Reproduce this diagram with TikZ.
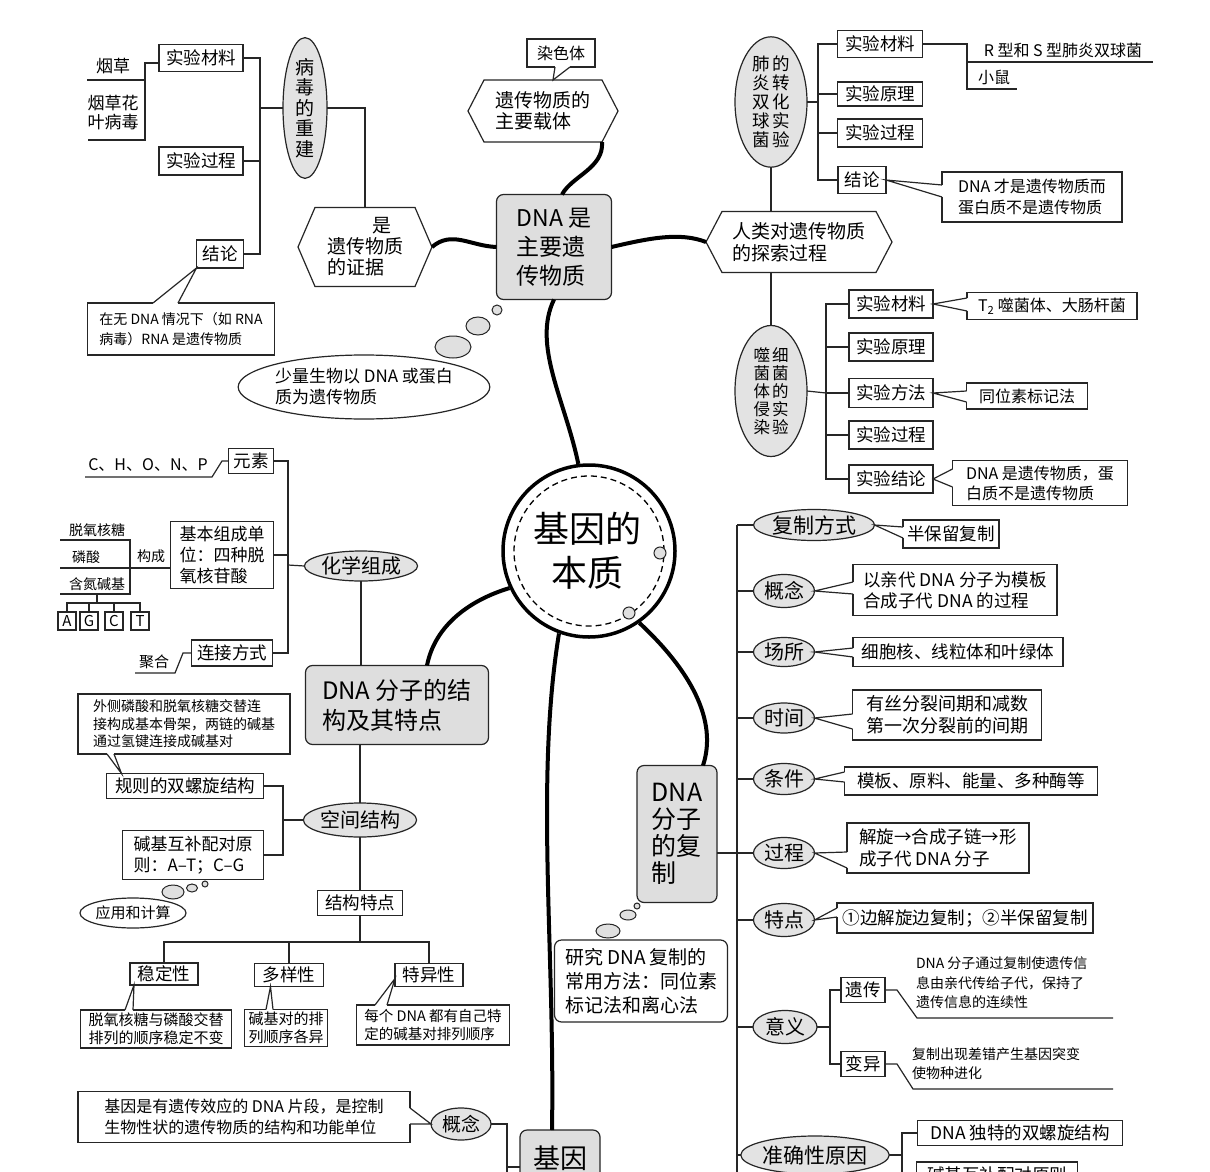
\documentclass[tikz,border=0pt]{standalone}
\usepackage{fontspec}
\setmainfont{Noto Sans CJK SC}
\usetikzlibrary{shapes.geometric,calc}
\newcommand\fsz[2]{\fontsize{#1pt}{#2pt}\selectfont}
\newcommand\calltail[3]{\draw[white,line width=1.8pt] (#1) -- (#3); \draw[ln] (#1) -- (#2) -- (#3);}
\newcommand\hexa[2]{\draw[ln,line join=miter] ([xshift=-#2pt]#1.west) -- (#1.north west) -- (#1.north east) -- ([xshift=#2pt]#1.east) -- (#1.south east) -- (#1.south west) -- cycle;}
\tikzset{
 ln/.style={draw=black!85, line width=1.2pt},
 bx/.style={draw=black!85, line width=1.2pt, fill=white, inner sep=0pt, outer sep=0pt, align=center, font=\fsz{17.5}{20}},
 gbx/.style={bx, fill=black!13, rounded corners=7pt},
 ov/.style={ellipse, draw=black!85, line width=1.2pt, fill=black!11, inner sep=0pt, outer sep=0pt, align=center, font=\fsz{20}{22}},
 thk/.style={draw=black, line width=4pt},
 tx/.style={inner sep=0pt, outer sep=0pt, align=center, font=\fsz{17}{20}},
 bub/.style={ellipse, draw=black!85, line width=1pt, fill=black!12, inner sep=0pt},
}
\begin{document}
\begin{tikzpicture}[x=1pt,y=-1pt]
\useasboundingbox (0,0) rectangle (1210,1172);
\fill[white] (0,0) rectangle (1210,1172);
\clip (0,0) rectangle (1210,1172);

% ---------- top left: virus reconstruction ----------
\node[tx] (yc) at (113,66) {烟草};
\node[tx, font=\fsz{17}{19}] (ych) at (113,113) {烟草花\\叶病毒};
\node[bx, minimum width=84pt, minimum height=27pt] (tm1) at (201,58) {实验材料};
\node[bx, minimum width=84pt, minimum height=28pt] (tm2) at (201,161) {实验过程};
\node[bx, minimum width=47pt, minimum height=28pt] (tm3) at (220,254) {结论};
\coordinate (yk) at (145,63);
\draw[ln] (87,80) -- (145,80);
\draw[ln] (88,140) -- (145,140) -- (yk) -- (yk -| tm1.west);
\node[ov, minimum width=44pt, minimum height=120pt, font=\fsz{19}{20.5}] (ov1) at (305,108) {病\\毒\\的\\重\\建};
\coordinate (sp1) at (260,108);
\draw[ln] (tm1.east) -- (tm1.east -| sp1) -- (tm3.east -| sp1) -- (tm3.east);
\draw[ln] (tm2.east) -- (tm2.east -| sp1);
\draw[ln] (sp1) -- (ov1.west);
\node[bx, minimum width=187pt, minimum height=52pt, font=\fsz{14}{20}, align=left] (cb1) at (181,329) {在无 DNA 情况下（如 RNA\\病毒）RNA 是遗传物质};
\calltail{[xshift=-28pt]cb1.north}{tm3.south west}{[xshift=-3pt]cb1.north}

\node[tx, font=\fsz{19}{21}, align=left, minimum width=100pt, minimum height=79pt] (hx2) at (365,247) {\hspace{2.4em}是\\遗传物质\\的证据};
\hexa{hx2}{17}
\draw[ln] (ov1.east) -| (hx2.north);

% ---------- top middle ----------
\node[tx, font=\fsz{19}{21}, align=left, minimum width=118pt, minimum height=62pt] (hx1) at (543,111) {遗传物质的\\主要载体};
\hexa{hx1}{16}
\node[bx, minimum width=68pt, minimum height=28pt, font=\fsz{16}{18}] (cb2) at (561,53) {染色体};
\calltail{[xshift=-6pt]cb2.south}{[xshift=10pt]hx1.north}{[xshift=9pt]cb2.south}
\node[gbx, minimum width=115pt, minimum height=105pt, font=\fsz{23}{29}, align=left] (dna1) at (554,247) {DNA 是\\主要遗\\传物质};
\node[bub, circle, minimum size=10pt] (bb1) at (497,310) {};
\node[bub, minimum width=24pt, minimum height=18pt] (bb2) at (478,326) {};
\node[bub, minimum width=36pt, minimum height=22pt] (bb3) at (453,347) {};
\node[ov, fill=white, minimum width=228pt, minimum height=64pt, font=\fsz{17}{21}, align=left] (ov2) at (364,387) {少量生物以 DNA 或蛋白\\质为遗传物质};

% ---------- top right ----------
\node[ov, minimum width=72pt, minimum height=130pt, font=\fsz{17.5}{19}] (ov3) at (771,102) {肺\hspace{3pt}的\\炎\hspace{3pt}转\\双\hspace{3pt}化\\球\hspace{3pt}实\\菌\hspace{3pt}验};
\node[tx, font=\fsz{19}{22}, align=left, minimum width=154pt, minimum height=61pt] (hx3) at (799,242) {人类对遗传物质\\的探索过程};
\hexa{hx3}{16}
\draw[ln] (ov3.south) -- (ov3.south |- hx3.north);
\node[bx, minimum width=85pt, minimum height=27pt] (rm1) at (880,44) {实验材料};
\node[bx, minimum width=85pt, minimum height=24pt] (rm2) at (880,94) {实验原理};
\node[bx, minimum width=85pt, minimum height=28pt] (rm3) at (880,133) {实验过程};
\node[bx, minimum width=48pt, minimum height=27pt] (rm4) at (862,180) {结论};
\coordinate (sp2) at (818,102);
\draw[ln] (ov3.east) -- (sp2);
\draw[ln] (rm1.west) -- (rm1.west -| sp2) -- (rm4.west -| sp2) -- (rm4.west);
\draw[ln] (rm2.west) -- (rm2.west -| sp2);
\draw[ln] (rm3.west) -- (rm3.west -| sp2);
\node[tx, font=\fsz{16}{18}] (rs) at (1063,50) {R 型和 S 型肺炎双球菌};
\node[tx, font=\fsz{16}{18}] (xs) at (994,77) {小鼠};
\coordinate (sp3) at (967,44);
\draw[ln] (rm1.east) -- (sp3) -- (967,89) -- (1017,89);
\draw[ln] (967,62) -- (1153,62);
\node[bx, minimum width=180pt, minimum height=50pt, font=\fsz{16}{21}, align=left] (cb3) at (1032,197) {DNA 才是遗传物质而\\蛋白质不是遗传物质};
\calltail{[yshift=12pt]cb3.west}{rm4.east}{cb3.west}

% ---------- phage experiment ----------
\node[ov, minimum width=72pt, minimum height=131pt, font=\fsz{16.5}{18}] (ov4) at (771,391) {噬\hspace{2pt}细\\菌\hspace{2pt}菌\\体\hspace{2pt}的\\侵\hspace{2pt}实\\染\hspace{2pt}验};
\draw[ln] (ov4.north |- hx3.south) -- (ov4.north);
\node[bx, minimum width=84pt, minimum height=28pt] (pm1) at (891,304) {实验材料};
\node[bx, minimum width=84pt, minimum height=28pt] (pm2) at (891,347) {实验原理};
\node[bx, minimum width=84pt, minimum height=29pt] (pm3) at (891,393) {实验方法};
\node[bx, minimum width=84pt, minimum height=28pt] (pm4) at (891,435) {实验过程};
\node[bx, minimum width=84pt, minimum height=28pt] (pm5) at (891,479) {实验结论};
\coordinate (sp4) at (826,393);
\draw[ln] (ov4.east) -- (sp4);
\draw[ln] (pm1.west) -- (pm1.west -| sp4) -- (pm5.west -| sp4) -- (pm5.west);
\draw[ln] (pm2.west) -- (pm2.west -| sp4);
\draw[ln] (pm3.west) -- (pm3.west -| sp4);
\draw[ln] (pm4.west) -- (pm4.west -| sp4);
\node[bx, minimum width=170pt, minimum height=27pt, font=\fsz{16}{18}] (cb4) at (1052,306) {T\textsubscript{2} 噬菌体、大肠杆菌};
\node[bx, minimum width=121pt, minimum height=26pt, font=\fsz{16}{18}] (cb5) at (1027,396) {同位素标记法};
\node[bx, minimum width=175pt, minimum height=45pt, font=\fsz{16}{20}, align=left] (cb6) at (1040,483) {DNA 是遗传物质，蛋\\白质不是遗传物质};
\calltail{[yshift=8pt]cb4.west}{pm1.east}{[yshift=-5pt]cb4.west}
\calltail{[yshift=5pt]cb5.west}{pm3.east}{[yshift=-6pt]cb5.west}
\calltail{[yshift=14pt]cb6.west}{pm5.east}{[yshift=-4pt]cb6.west}

% ---------- center ----------
\node[circle, draw=black, line width=3.5pt, fill=white, minimum size=172pt, inner sep=0pt] (cc) at (589,551) {};
\draw[dashed, line width=1.3pt, dash pattern=on 6pt off 4pt] (cc.center) circle[radius=75pt];
\node[bub, circle, minimum size=12pt] (k1) at (660,553) {};
\node[bub, circle, minimum size=12pt] (k2) at (629,613) {};
\node[tx, font=\fsz{36}{44}] (cct) at (587,551) {基因的\\本质};

% ---------- left middle: chemical composition ----------
\node[bx, minimum width=45pt, minimum height=25pt] (lm1) at (251,461) {元素};
\node[tx, font=\fsz{16}{18}] (chonp) at (148,465) {C、H、O、N、P};
\draw[ln] (85,477) -- (212,477) -- (222,461) -- (lm1.west);
\node[bx, minimum width=103pt, minimum height=67pt, font=\fsz{17}{21}, align=left] (lm2) at (222,555) {基本组成单\\位：四种脱\\氧核苷酸};
\node[tx, font=\fsz{14}{16}] (tl1) at (97,530) {脱氧核糖};
\node[tx, font=\fsz{14}{16}] (tl2) at (86,557) {磷酸};
\node[tx, font=\fsz{14}{16}] (tl3) at (97,584) {含氮碱基};
\node[tx, font=\fsz{14}{16}] (tl4) at (151,556) {构成};
\coordinate (pl) at (60,568);
\draw[ln] (60,540) -- (130,540) -- (130,594) -- (60,594);
\draw[ln] (pl) -- (pl -| lm2.west);
\node[bx, minimum size=18pt, font=\fsz{15}{17}] (ba) at (67,621) {A};
\node[bx, minimum size=18pt, font=\fsz{15}{17}] (bg) at (89,621) {G};
\node[bx, minimum size=18pt, font=\fsz{15}{17}] (bc) at (114,621) {C};
\node[bx, minimum size=18pt, font=\fsz{15}{17}] (bt) at (140,621) {T};
\coordinate (tr) at (97,603);
\draw[ln] (97,594) -- (tr);
\draw[ln] (ba.north) -- (ba.north |- tr) -- (bt.north |- tr) -- (bt.north);
\draw[ln] (bg.north) -- (bg.north |- tr);
\draw[ln] (bc.north) -- (bc.north |- tr);
\node[bx, minimum width=81pt, minimum height=26pt] (lm3) at (232,653) {连接方式};
\node[tx, font=\fsz{15}{17}] (jh) at (154,662) {聚合};
\draw[ln] (135,673) -- (175,673) -- (183,653) -- (lm3.west);
\node[ov, minimum width=108pt, minimum height=30pt] (ov5) at (361,566) {化学组成};
\coordinate (sp5) at (288,565);
\draw[ln] (lm1.east) -- (lm1.east -| sp5) -- (lm3.east -| sp5) -- (lm3.east);
\draw[ln] (lm2.east) -- (lm2.east -| sp5);
\draw[ln] (sp5) -- (ov5.west);
\node[gbx, minimum width=183pt, minimum height=79pt, font=\fsz{24}{30}, align=left] (dna2) at (397,705) {DNA 分子的结\\构及其特点};
\draw[ln] (ov5.south) -- (ov5.south |- dna2.north);

% ---------- left lower: spatial structure ----------
\node[ov, minimum width=106pt, minimum height=34pt] (ov6) at (360,820) {空间结构};
\draw[ln] (ov6.north |- dna2.south) -- (ov6.north);
\node[bx, minimum width=157pt, minimum height=25pt] (lb1) at (185,786) {规则的双螺旋结构};
\node[bx, minimum width=141pt, minimum height=49pt, font=\fsz{17}{21}, align=left] (lb2) at (193,855) {碱基互补配对原\\则：A–T；C–G};
\coordinate (sp6) at (283,820);
\draw[ln] (ov6.west) -- (sp6);
\draw[ln] (lb1.east) -- (lb1.east -| sp6) -- (lb2.east -| sp6) -- (lb2.east);
\node[bx, minimum width=212pt, minimum height=60pt, font=\fsz{14}{17.5}, align=left] (cb7) at (184,724) {外侧磷酸和脱氧核糖交替连\\接构成基本骨架，两链的碱基\\通过氢键连接成碱基对};
\calltail{[xshift=-77pt]cb7.south}{[xshift=15pt]lb1.north west}{[xshift=-70pt]cb7.south}
\node[bub, circle, minimum size=6pt] (bb4) at (205,884) {};
\node[bub, minimum width=11pt, minimum height=8pt] (bb5) at (192,888) {};
\node[bub, minimum width=22pt, minimum height=14pt] (bb6) at (173,892) {};
\node[ov, fill=white, minimum width=96pt, minimum height=30pt, font=\fsz{15}{17}] (ov7) at (133,913) {应用和计算};
\node[bx, minimum width=85pt, minimum height=25pt] (lb3) at (360,903) {结构特点};
\draw[ln] (ov6.south) -- (lb3.north);
\node[bx, minimum width=68pt, minimum height=22pt] (s1) at (164,974) {稳定性};
\node[bx, minimum width=69pt, minimum height=23pt] (s2) at (289,975) {多样性};
\node[bx, minimum width=68pt, minimum height=23pt] (s3) at (429,975) {特异性};
\coordinate (tr2) at (360,942);
\draw[ln] (lb3.south) -- (tr2);
\draw[ln] (s1.north) -- (s1.north |- tr2) -- (s3.north |- tr2) -- (s3.north);
\draw[ln] (s2.north) -- (s2.north |- tr2);
\node[bx, minimum width=151pt, minimum height=38pt, font=\fsz{15}{18}, align=left] (cb8) at (156,1029) {脱氧核糖与磷酸交替\\排列的顺序稳定不变};
\node[bx, minimum width=83pt, minimum height=37pt, font=\fsz{15}{18}, align=left] (cb9) at (286,1028) {碱基对的排\\列顺序各异};
\node[bx, minimum width=153pt, minimum height=40pt, font=\fsz{14.5}{18}, align=left] (cb10) at (433,1025) {每个 DNA 都有自己特\\定的碱基对排列顺序};
\calltail{[xshift=-31pt]cb8.north}{[xshift=4pt]s1.south west}{[xshift=-23pt]cb8.north}
\calltail{[xshift=-20pt]cb9.north}{[xshift=16pt]s2.south west}{[xshift=-13pt]cb9.north}
\calltail{[xshift=-58pt]cb10.north}{[yshift=8pt]s3.south west}{[xshift=-46pt]cb10.north}

% ---------- bottom left: gene ----------
\node[bx, minimum width=332pt, minimum height=51pt, font=\fsz{16}{21}, align=left] (cb11) at (244,1117) {基因是有遗传效应的 DNA 片段，是控制\\生物性状的遗传物质的结构和功能单位};
\node[ov, minimum width=60pt, minimum height=32pt, font=\fsz{19}{21}] (ov8) at (461,1124) {概念};
\calltail{[yshift=9pt]cb11.east}{ov8.west}{[yshift=-7pt]cb11.east}
\node[gbx, minimum width=80pt, minimum height=56pt, font=\fsz{27}{30}] (gene) at (560,1158) {基因};
\coordinate (sp7) at (507,1124);
\coordinate (gk) at (507,1167);
\draw[ln] (ov8.east) -- (sp7) -- (507,1190);
\draw[ln] (gk) -- (gk -| gene.west);

% ---------- right lower: replication ----------
\coordinate (sp8) at (737,525);
\draw[ln] (sp8) -- (737,1190);
\node[ov, minimum width=121pt, minimum height=31pt, font=\fsz{21}{23}] (ov9) at (814,525) {复制方式};
\node[ov, minimum width=61pt, minimum height=33pt] (ov10) at (784,591) {概念};
\node[ov, minimum width=61pt, minimum height=29pt] (ov11) at (784,652) {场所};
\node[ov, minimum width=61pt, minimum height=30pt] (ov12) at (784,718) {时间};
\node[ov, minimum width=61pt, minimum height=31pt] (ov13) at (784,779) {条件};
\node[ov, minimum width=61pt, minimum height=31pt] (ov14) at (784,853) {过程};
\node[ov, minimum width=61pt, minimum height=33pt] (ov15) at (784,920) {特点};
\node[ov, minimum width=64pt, minimum height=33pt] (ov16) at (785,1027) {意义};
\node[ov, minimum width=134pt, minimum height=38pt, font=\fsz{21}{23}] (ov17) at (815,1155) {准确性原因};
\foreach \o in {ov9,ov10,ov11,ov12,ov13,ov14,ov15,ov16,ov17}{\draw[ln] (\o.west -| sp8) -- (\o.west);}
\node[bx, minimum width=96pt, minimum height=28pt] (q1) at (951,534) {半保留复制};
\node[bx, minimum width=204pt, minimum height=51pt, font=\fsz{17.5}{21}, align=left] (q2) at (955,590) {以亲代 DNA 分子为模板\\合成子代 DNA 的过程};
\node[bx, minimum width=210pt, minimum height=29pt] (q3) at (958,652) {细胞核、线粒体和叶绿体};
\node[bx, minimum width=189pt, minimum height=50pt, font=\fsz{18}{22}, align=left] (q4) at (947,715) {有丝分裂间期和减数\\第一次分裂前的间期};
\node[bx, minimum width=253pt, minimum height=28pt] (q5) at (971,781) {模板、原料、能量、多种酶等};
\node[bx, minimum width=182pt, minimum height=50pt, font=\fsz{17.5}{22}, align=left] (q6) at (938,848) {解旋→合成子链→形\\成子代 DNA 分子};
\node[bx, minimum width=256pt, minimum height=30pt] (q7) at (965,918) {①边解旋边复制；②半保留复制};
\calltail{[yshift=7pt]q1.west}{ov9.east}{[yshift=-4pt]q1.west}
\calltail{[yshift=8pt]q2.west}{ov10.east}{[yshift=-4pt]q2.west}
\calltail{[yshift=4pt]q3.west}{ov11.east}{[yshift=-5pt]q3.west}
\calltail{[yshift=1pt]q4.west}{ov12.east}{[yshift=-14pt]q4.west}
\calltail{[yshift=9pt]q5.west}{ov13.east}{[yshift=-1pt]q5.west}
\calltail{[yshift=-4pt]q6.west}{ov14.east}{[yshift=-20pt]q6.west}
\calltail{[yshift=10pt]q7.west}{ov15.east}{[yshift=1pt]q7.west}
\node[bx, minimum width=44pt, minimum height=25pt] (y1) at (863,990) {遗传};
\node[bx, minimum width=44pt, minimum height=25pt] (y2) at (863,1064) {变异};
\coordinate (sp9) at (830,1027);
\draw[ln] (ov16.east) -- (sp9);
\draw[ln] (y1.west) -- (y1.west -| sp9) -- (y2.west -| sp9) -- (y2.west);
\draw[ln] (y1.east) -- (897,990) -- (917,1018) -- (1113,1018);
\draw[ln] (y2.east) -- (897,1064) -- (913,1089) -- (1113,1089);
\node[tx, anchor=north west, font=\fsz{14}{19.5}, align=left] (yt1) at (916,957) {DNA 分子通过复制使遗传信\\息由亲代传给子代，保持了\\遗传信息的连续性};
\node[tx, anchor=north west, font=\fsz{14}{18.5}, align=left] (yt2) at (912,1048) {复制出现差错产生基因突变\\使物种进化};
\node[bx, minimum width=205pt, minimum height=25pt] (r1) at (1020,1133) {DNA 独特的双螺旋结构};
\node[bx, minimum width=161pt, minimum height=26pt] (r2) at (997,1175) {碱基互补配对原则};
\coordinate (sp10) at (902,1155);
\draw[ln] (ov17.east) -- (sp10);
\draw[ln] (r1.west) -- (r1.west -| sp10) -- (902,1190);
\draw[ln] (r2.west) -- (r2.west -| sp10);

\node[gbx, minimum width=80pt, minimum height=137pt, font=\fsz{25}{27}, align=left] (dna3) at (677,834) {DNA\\分子\\的复\\制};
\draw[ln] ([yshift=-19pt]dna3.east) -- ([yshift=-19pt]dna3.east -| sp8);
\node[bub, circle, minimum size=6pt] (bb7) at (637,906) {};
\node[bub, minimum width=16pt, minimum height=10pt] (bb8) at (628,915) {};
\node[bub, minimum width=24pt, minimum height=14pt] (bb9) at (608,931) {};
\node[bx, rounded corners=7pt, minimum width=173pt, minimum height=82pt, font=\fsz{19}{24}, align=left] (cb12) at (641,981) {研究 DNA 复制的\\常用方法：同位素\\标记法和离心法};

% ---------- thick connectors ----------
\draw[thk] ([xshift=17pt]hx2.east) .. controls (452,230) and (470,246) .. (dna1.west);
\draw[thk] ([xshift=8pt]dna1.north) .. controls (572,176) and (604,168) .. (hx1.south east);
\draw[thk] (dna1.east) .. controls (650,238) and (680,232) .. ([xshift=-16pt]hx3.west);
\draw[thk] (dna1.south) .. controls (532,345) and (565,400) .. (cc.97);
\draw[thk] (cc.205) .. controls (470,600) and (435,625) .. ([xshift=30pt]dna2.north);
\draw[thk] (cc.250) .. controls (535,780) and (555,950) .. ([xshift=-8pt]gene.north);
\draw[thk] (cc.305) .. controls (690,670) and (718,720) .. ([xshift=26pt]dna3.north);
\end{tikzpicture}
\end{document}
